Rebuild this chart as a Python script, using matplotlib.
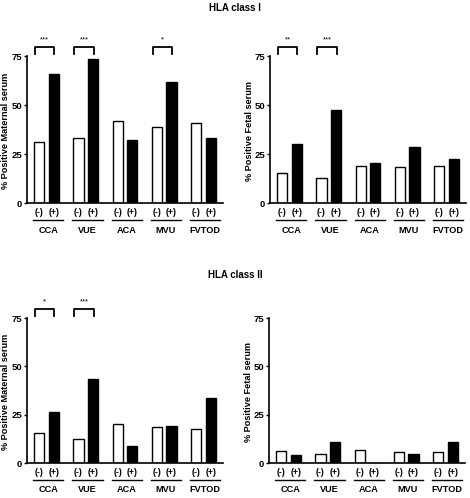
import numpy as np
import matplotlib
matplotlib.use('Agg')
import matplotlib.pyplot as plt

plt.rcParams['font.family'] = ['Liberation Sans', 'DejaVu Sans']
plt.rcParams['font.weight'] = 'bold'

groups = ['CCA', 'VUE', 'ACA', 'MVU', 'FVTOD']

# HLA class I
mat1_neg = [31.0, 33.0, 42.0, 38.6, 40.8]
mat1_pos = [66.0, 73.5, 32.2, 62.0, 33.5]
fet1_neg = [15.2, 13.0, 19.1, 18.6, 19.1]
fet1_pos = [30.3, 47.3, 20.6, 28.8, 22.5]
# HLA class II
mat2_neg = [15.5, 12.7, 20.3, 18.6, 17.5]
mat2_pos = [26.3, 43.7, 9.1, 19.1, 33.5]
fet2_neg = [6.5, 4.6, 6.9, 5.8, 5.7]
fet2_pos = [4.1, 11.2, 0.0, 4.8, 11.2]

sig_mat1 = {0: '***', 1: '***', 3: '*'}
sig_fet1 = {0: '**', 1: '***'}
sig_mat2 = {0: '*', 1: '***'}
sig_fet2 = {}

W, H = 470, 498
fig = plt.figure(figsize=(W / 100, H / 100), dpi=100)


def panel(rect, neg, pos, ylabel, sig, labx):
    ax = fig.add_axes(rect)
    ind = np.arange(len(groups))
    off, width = 0.187, 0.26
    ax.bar(ind - off, neg, width, color='white', edgecolor='black', linewidth=1.0)
    ax.bar(ind + off, pos, width, color='black', edgecolor='black', linewidth=1.0)
    ax.set_xlim(-0.5, 4.5)
    ax.set_ylim(0, 75)
    ax.set_yticks([0, 25, 50, 75])
    ax.tick_params(axis='y', labelsize=6.8, length=2.5, width=1.0, pad=1)
    ax.set_xticks([])
    for s in ['top', 'right']:
        ax.spines[s].set_visible(False)
    for s in ['left', 'bottom']:
        ax.spines[s].set_linewidth(1.2)
    ax.set_ylabel(ylabel, fontsize=6.6, fontweight='bold')
    ax.yaxis.set_label_coords(labx, 0.49)
    for i, g in enumerate(groups):
        ax.text(i - off, -4.8, '(-)', ha='center', va='center', fontsize=6.3, fontweight='bold', clip_on=False)
        ax.text(i + off, -4.8, '(+)', ha='center', va='center', fontsize=6.3, fontweight='bold', clip_on=False)
        ax.plot([i - 0.34, i + 0.43], [-8.5, -8.5], color='black', lw=1.0, clip_on=False)
        ax.text(i + 0.04, -13.7, g, ha='center', va='center', fontsize=6.6, fontweight='bold', clip_on=False)
    for i, st in sig.items():
        x0, x1 = i - 0.29, i + 0.2
        ax.plot([x0, x0, x1, x1], [76.0, 79.5, 79.5, 76.0], color='black', lw=1.3, clip_on=False)
        ax.text((x0 + x1) / 2, 81.3, st, ha='center', va='bottom', fontsize=5.5, fontweight='normal', clip_on=False)
    return ax


panel([27 / W, 1 - 203.3 / H, 196 / W, 147.3 / H], mat1_neg, mat1_pos, '% Positive Maternal serum', sig_mat1, -0.088)
panel([270 / W, 1 - 203.3 / H, 196 / W, 147.3 / H], fet1_neg, fet1_pos, '% Positive Fetal serum', sig_fet1, -0.08)
panel([27 / W, 1 - 463.3 / H, 196 / W, 145.3 / H], mat2_neg, mat2_pos, '% Positive Maternal serum', sig_mat2, -0.088)
panel([269 / W, 1 - 463.3 / H, 196 / W, 145.3 / H], fet2_neg, fet2_pos, '% Positive Fetal serum', sig_fet2, -0.08)

fig.text(0.5, 1 - 8 / H, 'HLA class I', ha='center', va='center', fontsize=7, fontweight='bold')
fig.text(0.5, 1 - 275 / H, 'HLA class II', ha='center', va='center', fontsize=7, fontweight='bold')

fig.savefig('out.png', dpi=100)
